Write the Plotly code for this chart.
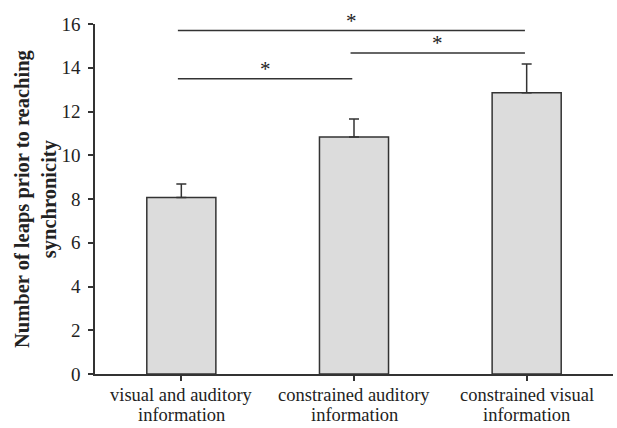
import plotly.graph_objects as go

categories = ["visual and auditory<br>information",
              "constrained auditory<br>information",
              "constrained visual<br>information"]
means = [8.07, 10.83, 12.86]
errors = [0.62, 0.83, 1.31]
y_ticks = [0, 2, 4, 6, 8, 10, 12, 14, 16]
y_title = "Number of leaps prior to reaching<br>synchronicity"

sig_pairs = [(0, 1), (1, 2), (0, 2)]
sig_heights = [13.5, 14.68, 15.7]
sig_labels = ["*", "*", "*"]

FONT = "Liberation Serif, Times New Roman, serif"
LINE = "#333333"
TXT = "#222222"

fig = go.Figure()
fig.add_trace(go.Bar(
    x=[0, 1, 2], y=means, width=0.4,
    marker=dict(color="#dcdcdc", line=dict(color=LINE, width=1.5)),
    error_y=dict(type="data", symmetric=False, array=errors,
                 arrayminus=[0] * len(errors), color=LINE,
                 thickness=1.5, width=5),
    showlegend=False, hoverinfo="skip",
))

for (a, b), h, lab in zip(sig_pairs, sig_heights, sig_labels):
    fig.add_trace(go.Scatter(
        x=[a - 0.02, b - 0.01], y=[h, h], mode="lines",
        line=dict(color=LINE, width=1.5), showlegend=False, hoverinfo="skip",
    ))
    fig.add_annotation(x=(a + b) / 2 - 0.015, y=h, text=lab, showarrow=False,
                       yanchor="bottom", yshift=-4,
                       font=dict(family=FONT, size=21, color=TXT))

# category labels (two lines each) placed under the axis
for i, cat in enumerate(categories):
    for j, part in enumerate(cat.split("<br>")):
        fig.add_annotation(x=i, xref="x", y=0, yref="paper", text=part,
                           showarrow=False, yanchor="middle", borderpad=0,
                           yshift=-21 - 20 * j,
                           font=dict(family=FONT, size=18.5, color=TXT))

fig.add_annotation(x=0, xref="paper", xshift=-59, y=0.5, yref="paper",
                   text="<b>" + y_title + "</b>", textangle=-90,
                   showarrow=False, xanchor="center", yanchor="middle",
                   font=dict(family=FONT, size=20.5, color=TXT))

fig.update_layout(
    width=617, height=428,
    margin=dict(l=95, r=4, t=24, b=54),
    paper_bgcolor="white", plot_bgcolor="white",
    font=dict(family=FONT, size=16, color=TXT),
)
fig.update_xaxes(
    range=[-0.5, 2.5], tickmode="array", tickvals=[0, 1, 2],
    ticktext=["", "", ""],
    showline=True, linecolor=LINE, linewidth=1.5,
    ticks="outside", tickson="boundaries", ticklen=5, tickcolor=LINE, tickwidth=1.5,
    showgrid=False, zeroline=False, automargin=False,
)
fig.update_yaxes(
    range=[0, 16], tickmode="array", tickvals=y_ticks,
    showline=True, linecolor=LINE, linewidth=1.5,
    ticks="outside", ticklen=5, tickcolor=LINE, tickwidth=1.5,
    showgrid=False, zeroline=False, tickfont=dict(size=19),
    ticklabelstandoff=4, automargin=False,
)

fig.write_html("out.html", config={"displayModeBar": False},
               post_script="document.body.style.margin='0';document.body.style.overflow='hidden';")
